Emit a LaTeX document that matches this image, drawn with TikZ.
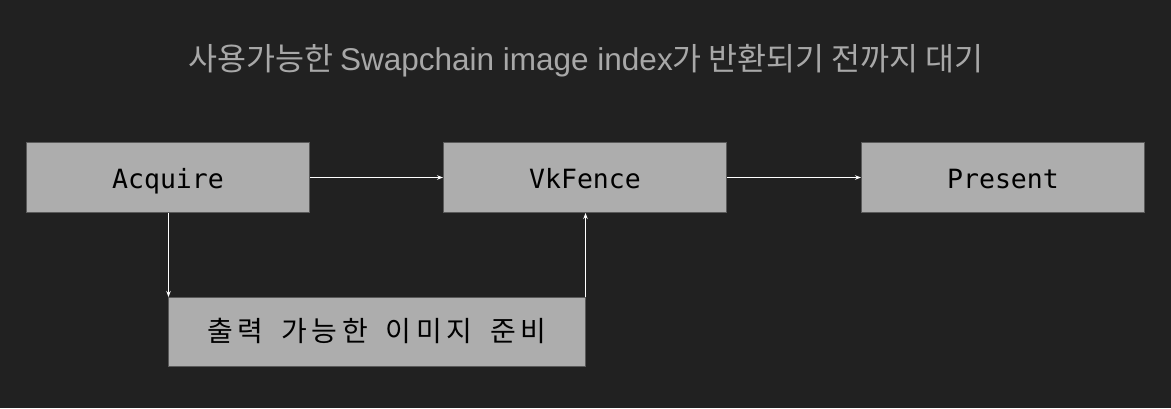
\documentclass[tikz,border=0pt]{standalone}
\usepackage{fontspec}
\usetikzlibrary{arrows.meta}
\newfontfamily\krfont{Noto Sans CJK KR}
\newfontfamily\latfont{Liberation Sans}
\newfontfamily\krmono[WordSpace=1.6,LetterSpace=17]{Noto Sans CJK KR}
\newfontfamily\monofont{DejaVu Sans Mono}
\definecolor{bg}{HTML}{212121}
\definecolor{boxfill}{HTML}{ADADAD}
\definecolor{boxline}{HTML}{5A5A5A}
\definecolor{titlecol}{HTML}{A8A8A8}
\tikzset{
  stepbox/.style={draw=boxline, line width=1pt, fill=boxfill, minimum width=283pt, minimum height=70pt, inner sep=0pt, anchor=north west, text=black, text height=24pt, text depth=3pt},
  flow/.style={draw=white, line width=0.9pt, -{Stealth[length=6pt,width=4.5pt]}},
}
\begin{document}
\begin{tikzpicture}[x=1pt,y=-1pt]
\fill[bg] (0,0) rectangle (1171,408);
\useasboundingbox (0,0) rectangle (1171,408);
\node[text=titlecol, font=\krfont\fontsize{31.5}{36}\selectfont, inner sep=0pt] (title) at (586,61) {사용가능한 {\latfont Swapchain image index}가 반환되기 전까지 대기};
\node[stepbox, font=\monofont\fontsize{26.5}{30}\selectfont] (acq) at (26,142) {Acquire};
\node[stepbox, font=\monofont\fontsize{26.5}{30}\selectfont] (fence) at (443,142) {VkFence};
\node[stepbox, font=\monofont\fontsize{26.5}{30}\selectfont] (pres) at (861,142) {Present};
\node[stepbox, minimum width=417pt, minimum height=69pt, text height=22pt, text depth=4pt, font=\krmono\fontsize{28}{32}\selectfont] (prep) at (168,297) {출력 가능한 이미지 준비};
\draw[flow] (acq.east) -- (fence.west);
\draw[flow] (fence.east) -- (pres.west);
\coordinate (a1) at ([xshift=0.5pt]prep.north west);
\coordinate (a2) at ([xshift=-0.5pt]prep.north east);
\draw[flow] (acq.south -| a1) -- (a1);
\draw[flow] (a2) -- (fence.south -| a2);
\end{tikzpicture}
\end{document}
